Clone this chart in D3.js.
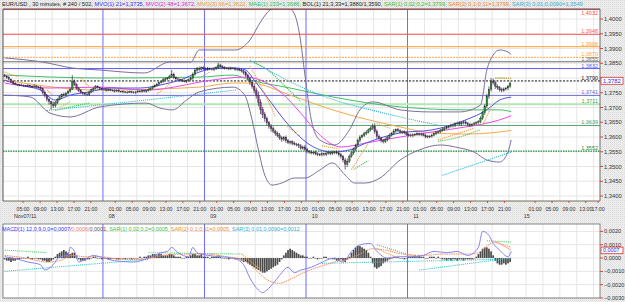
<!DOCTYPE html>
<html>
<head>
<meta charset="utf-8">
<script src="https://cdn.jsdelivr.net/npm/d3@7"></script>
<style>
  html, body { margin: 0; padding: 0; background: #ebebeb; }
  svg { display: block; font-family: "Liberation Sans", Arial, sans-serif; }
</style>
</head>
<body>
<div id="chart"></div>
<script>
// ---- data (prices in pips above 1.3000, bar index = 30 minute bar) ----
const closes = [
  806, 801, 796, 789, 782, 779, 777, 775, 776, 774,
  773, 775, 772, 771, 773, 770, 769, 764, 752, 741,
  728, 720, 712, 706, 716, 728, 736, 744, 741, 748,
  755, 762, 789, 779, 766, 757, 751, 748, 745, 743,
  752, 760, 765, 771, 767, 764, 762, 760, 758, 761,
  759, 757, 756, 758, 754, 755, 753, 751, 752, 754,
  752, 750, 753, 755, 754, 757, 755, 758, 760, 765,
  770, 775, 779, 784, 788, 794, 797, 800, 806, 812,
  801, 797, 795, 792, 790, 788, 791, 794, 799, 812,
  826, 833, 830, 835, 832, 829, 833, 830, 828, 831,
  835, 844, 838, 836, 834, 833, 831, 834, 832, 829,
  830, 827, 824, 818, 810, 798, 786, 772, 758, 742,
  718, 694, 676, 662, 648, 636, 628, 620, 612, 606,
  597, 592, 598, 587, 581, 584, 579, 576, 574, 570,
  562, 566, 558, 552, 549, 546, 548, 543, 541, 540,
  543, 541, 545, 547, 544, 548, 549, 546, 540, 534,
  522, 508, 518, 535, 546, 558, 572, 588, 600, 605,
  612, 616, 624, 630, 636, 618, 602, 596, 588, 584,
  591, 598, 606, 612, 620, 625, 621, 616, 618, 614,
  609, 606, 604, 607, 609, 611, 608, 610, 606, 602,
  600, 603, 606, 611, 615, 618, 622, 626, 630, 633,
  636, 640, 638, 645, 647, 644, 648, 651, 646, 642,
  640, 643, 646, 649, 652, 664, 682, 705, 738, 762,
  790, 784, 772, 768, 761, 758, 763, 766, 772, 782
];
const firstOpen = 810;
const upWick = [
  4,3,5,2,3,4,2,3,5,2, 3,4,2,3,5,3,2,4,3,6, 4,5,3,8,6,4,5,3,6,4, 5,4,21,6,3,4,5,3,4,6,
  5,4,3,5,4,3,4,3,5,3, 4,3,5,3,4,2,4,3,5,3, 3,4,3,5,4,3,4,3,5,4, 4,3,5,4,3,6,4,3,5,15,
  6,4,5,3,4,5,3,4,6,7, 8,5,6,4,5,4,5,3,4,6, 5,8,4,5,4,3,5,4,3,4, 3,4,5,4,6,5,7,6,8,9,
  12,10,8,9,7,6,8,7,5,6, 8,6,5,7,6,4,5,6,4,5, 6,5,7,6,4,5,4,6,5,4, 5,4,6,5,4,5,4,6,5,6,
  5,7,9,6,5,6,5,7,6,5, 6,7,5,6,9,10,8,6,5,6, 7,5,6,5,7,4,6,5,4,5, 5,4,6,5,4,5,4,5,4,5,
  5,4,5,4,5,4,6,5,4,5, 4,5,6,4,5,6,5,4,6,5, 5,4,5,4,5,6,7,6,8,9, 10,8,7,6,5,6,5,4,5,6
];
const loWick = [
  3,4,3,5,4,3,4,3,2,4, 3,4,3,5,4,3,5,6,8,7, 8,10,20,8,6,5,4,5,4,3, 4,5,3,6,5,4,3,5,4,3,
  4,3,5,4,3,5,4,3,4,3, 4,3,5,4,3,4,5,3,4,3, 4,3,5,4,3,4,3,5,4,3, 4,3,5,4,3,4,3,5,4,5,
  5,6,4,5,4,3,5,4,3,5, 4,5,6,4,5,4,5,4,3,5, 4,5,3,4,5,4,5,4,3,4, 5,4,5,6,7,8,9,8,10,12,
  14,16,12,10,9,8,10,7,8,6, 7,8,6,7,5,6,7,5,6,7, 5,6,5,7,6,5,6,5,6,5, 6,5,6,5,6,5,6,5,6,7,
  8,18,10,6,5,6,5,4,6,5, 5,6,4,5,6,7,8,6,7,6, 5,6,5,4,5,6,5,4,6,5, 4,5,4,5,4,5,4,5,4,6,
  5,4,5,4,5,4,5,4,5,4, 5,4,6,5,4,5,6,5,4,5, 6,5,4,5,4,5,6,7,8,9, 8,7,9,8,7,6,5,6,7,5
];

// indicator lines: [bar index, price]
const mvo21 = [[0,1.3793],[7,1.3776],[17,1.3759],[24,1.3725],[31,1.3742],[40,1.3753],[50,1.3766],[64,1.3766],[76,1.3780],[83,1.3793],[92,1.3820],[100,1.3834],[109,1.3834],[114,1.3827],[118,1.3793],[124,1.3736],[133.5,1.3647],[143,1.3580],[155,1.3549],[163,1.3556],[171,1.3580],[187,1.3614],[202,1.3624],[218,1.3658],[228,1.3692],[234,1.3725],[239.5,1.3735]];
const mvo48 = [[0,1.3783],[21,1.3766],[45,1.3769],[67,1.3759],[80,1.3769],[92,1.3786],[114,1.3803],[121,1.3793],[131,1.3749],[140,1.3681],[148,1.3614],[159,1.3566],[171,1.3580],[187,1.3600],[202,1.3617],[218,1.3634],[234,1.3658],[239.5,1.3672]];
const mvo96 = [[0,1.3793],[45,1.3759],[92,1.3769],[108,1.3783],[116,1.3783],[135,1.3742],[155,1.3692],[187,1.3634],[202,1.3614],[218,1.3610],[234,1.3617],[239.5,1.3622]];
const mae233 = [[0,1.3810],[45,1.3800],[92,1.3803],[108,1.3810],[116,1.3793],[135,1.3766],[155,1.3736],[187,1.3702],[218,1.3692],[234,1.3692],[239.5,1.3686]];
const bolUpper = [[0,1.3868],[18,1.3854],[32,1.3834],[45,1.3827],[66,1.3817],[78,1.3854],[88,1.3854],[92,1.3895],[109,1.3895],[116,1.3929],[121,1.3990],[125.5,1.4031],[131.5,1.4047],[136.5,1.4024],[139.5,1.3946],[142,1.3810],[145,1.3658],[149,1.3590],[156,1.3573],[163,1.3624],[168,1.3692],[174,1.3719],[187,1.3692],[201,1.3685],[215,1.3685],[225,1.3708],[228,1.3827],[231,1.3878],[234,1.3895],[238,1.3888],[239.5,1.3880]];
const bolLower = [[0,1.3742],[12,1.3736],[21.5,1.3681],[31,1.3668],[45,1.3702],[67,1.3715],[73.5,1.3698],[79.5,1.3692],[86,1.3725],[92,1.3753],[108,1.3769],[113.5,1.3742],[117,1.3658],[120,1.3556],[123,1.3471],[126.5,1.3437],[131,1.3444],[137,1.3461],[142,1.3461],[149,1.3488],[155,1.3512],[161,1.3471],[165.5,1.3444],[170.5,1.3444],[177.5,1.3461],[187,1.3522],[196,1.3556],[206,1.3573],[215,1.3563],[222,1.3549],[228,1.3522],[234,1.3515],[238,1.3549],[239.5,1.3590]];
const sar1 = [
  [[24,1.3690],[30,1.3700],[40,1.3715]],
  [[118,1.3852],[124,1.3830],[130,1.3790],[140,1.3720]],
  [[165,1.3490],[172,1.3520]],
  [[205,1.3585],[215,1.3600],[225,1.3625]],
  [[232,1.3800],[239.5,1.3799]]
];
const sar2 = [
  [[0,1.3820],[6,1.3805]], [[20,1.3760],[23,1.3740]], [[26,1.3700],[31,1.3720]],
  [[36,1.3800],[40,1.3770]], [[72,1.3745],[78,1.3780]], [[92,1.3800],[97,1.3820]],
  [[116,1.3840],[122,1.3760],[128,1.3670]], [[133,1.3640],[140,1.3600]],
  [[150,1.3570],[158,1.3560]], [[164,1.3490],[172,1.3580]], [[176,1.3646],[182,1.3630]],
  [[205,1.3590],[222,1.3630]], [[226,1.3640],[230,1.3700]], [[232,1.3800],[239.5,1.3799]]
];
const sar3 = [
  [[20,1.3690],[60,1.3720],[110,1.3760]],
  [[116,1.3860],[150,1.3740],[180,1.3680],[205,1.3640]],
  [[207,1.3470],[239.5,1.3549]]
];

// horizontal levels
const levelPrices = [1.4032, 1.3948, 1.3906, 1.3870, 1.3855, 1.3832, 1.3790, 1.3741, 1.3711, 1.3639, 1.3552];
const lastPrice = 1.3782;

// MACD panel (values in 0.0001)
const histVals = [
  -1,-2,-2,-3,-2,-2,-1,-1,0,0, 0,1,0,-1,0,0,-1,-1,-2,-2, -3,-3,-2,-1,1,3,4,5,6,5, 4,3,4,4,2,-1,-2,-2,-2,-1,
  -1,0,1,1,0,0,-1,0,0,-1, -1,0,0,-1,-1,0,0,-1,0,0, -1,0,0,0,1,0,1,1,2,2, 3,3,2,3,3,2,2,2,3,3,
  2,1,1,1,0,0,1,1,2,3, 3,2,2,3,1,1,1,0,1,1, 1,2,1,0,0,0,-1,0,0,-1, -1,-1,-2,-3,-3,-4,-5,-6,-7,-8,
  -9,-10,-11,-11,-10,-9,-8,-7,-6,-5, -3,-1,2,4,6,7,6,5,4,3, 2,2,1,1,0,0,1,0,-1,0, 0,1,1,0,0,-1,-1,-2,-2,-1,
  -2,-3,-1,1,4,6,8,9,9,8, 7,6,4,1,-4,-7,-8,-7,-6,-4, -3,-2,-1,0,1,1,1,0,0,-1, 0,1,1,1,2,1,2,1,1,0,
  0,1,1,1,0,1,0,-1,-1,-2, -1,-2,-1,-1,-2,-1,-1,-2,-1,-1, -1,-1,0,1,3,5,7,8,8,7, 5,2,-2,-4,-5,-5,-4,-5,-4,-3
];
const macdLine = [[0,1],[4,0],[11,-3],[17,-5],[19,-9],[23,-5],[26,1],[30,2],[31,8],[33,5],[35,-3],[39,0],[42,2],[45,1],[52,-2],[61,-3],[68,0],[74,4],[77,5],[79,8],[82,4],[87,1],[89,8],[91,4],[96,2],[102,1],[108,0],[113,-5],[116,-15],[120,-24],[122,-26],[124,-24],[127,-19],[130,-13],[134,-7],[137,-11],[140,-9],[145,-7],[149,-4],[156,0],[160,-3],[164,5],[168,10],[173,11],[176,5],[181,0],[187,1],[193,1],[198,2],[203,5],[209,4],[214,5],[219,2],[224,8],[226,20],[229,17],[231,11],[234,6],[238,1],[239.5,5]];
const signalLine = [[0,2],[10,0],[20,-3],[26,-2],[32,2],[38,1],[45,1],[55,-1],[65,-1],[75,2],[85,3],[95,3],[105,1],[112,-1],[116,-5],[120,-11],[125,-17],[130,-19],[135,-16],[140,-12],[148,-7],[156,-3],[162,-1],[168,3],[174,7],[180,6],[188,3],[198,2],[208,3],[218,3],[224,4],[228,9],[232,12],[236,9],[239.5,6]];
const macdSar1 = [[[0,6],[20,4]], [[68,4],[112,3]], [[176,10],[196,0]], [[228,13],[239.5,12]]];
const macdSar2 = [[[112,3],[122,-10]], [[176,7],[186,0]], [[232,12],[239.5,8]]];
const macdSar3 = [[[0,-10],[68,-1]], [[150,-4],[232,-1]], [[196,-9],[239.5,0]]];

// axes
const priceTicks = [1.4000, 1.3950, 1.3900, 1.3850, 1.3800, 1.3750, 1.3700, 1.3650, 1.3600, 1.3550, 1.3500, 1.3450, 1.3400];
const hiddenPriceLabel = 1.3800;   // covered by the last-price box in the reference
const macdTicks = [0.0020, 0.0010, 0, -0.0010, -0.0020, -0.0030];
const lastMacd = 0.0007;
const hourTickIdx = [8.7, 16.8, 24.8, 32.8, 40.8,
  52.3, 60.3, 68.3, 76.3, 84.3, 92.3,
  100.3, 108.3, 116.3, 124.3, 132.3, 140.3,
  148.3, 156.3, 164.3, 172.3, 180.3, 188.3,
  196.3, 204.3, 212.3, 220.3, 228.3, 236.3,
  250.8, 258.8, 266.8, 274.8, 280.6];
const hourTickLbl = ['05:00','09:00','13:00','17:00','21:00',
  '01:00','05:00','09:00','13:00','17:00','21:00',
  '01:00','05:00','09:00','13:00','17:00','21:00',
  '01:00','05:00','09:00','13:00','17:00','21:00',
  '01:00','05:00','09:00','13:00','17:00','21:00',
  '01:00','05:00','09:00','13:00','17:00'];
const dayTickIdx = [4.4, 49.2, 97.2, 145.2, 193.2, 245.4];
const dayTickLbl = ['Nov07/11', '08', '09', '10', '11', '15'];
const daySeparators = [46.5, 94.5, 142.5, 190.5];

const headerParts = ['EUR/USD , 30 minutes, # 240 / 502, ', 'MVO(1) 21=1,3735, ', 'MVO(2) 48=1,3672, ', 'MVO(3) 96=1,3622, ',
  'MAE(1) 233=1,3686, ', 'BOL(1) 21;3,33=1,3880/1,3590, ', 'SAR(1) 0,02;0,2=1,3799, ', 'SAR(2) 0,1;0,11=1,3799, ', 'SAR(3) 0,01;0,0090=1,3549'];
const macdHeaderParts = ['MACD(1) 12,0,9,0,0=0,0007/', '0,0006/', '0,0001, ', 'SAR(1) 0,02;0,2=0,0005, ', 'SAR(2) 0,1;0,11=0,0005, ', 'SAR(3) 0,01;0,0090=0,0012'];

// ---- layout ----
const W = 625, H = 302;
const main = { l: 3, r: 600, t: 9, b: 201 };
const sub = { t: 224, b: 298 };
const fmt4 = v => d3.format('.4f')(v).replace('.', ',').replace('-0,0000', '0,0000');

const svg = d3.select('#chart').append('svg').attr('width', W).attr('height', H);

const defs = svg.append('defs');
const pat = defs.append('pattern').attr('id', 'dither').attr('width', 2).attr('height', 2).attr('patternUnits', 'userSpaceOnUse');
pat.append('rect').attr('width', 2).attr('height', 2).attr('fill', '#f1f1f1');
pat.append('rect').attr('width', 1).attr('height', 1).attr('fill', '#dadada');
pat.append('rect').attr('x', 1).attr('y', 1).attr('width', 1).attr('height', 1).attr('fill', '#e4e4e4');
defs.append('clipPath').attr('id', 'clipMain').append('rect')
  .attr('x', main.l).attr('y', main.t).attr('width', main.r - main.l).attr('height', main.b - main.t);
defs.append('clipPath').attr('id', 'clipSub').append('rect')
  .attr('x', main.l).attr('y', sub.t).attr('width', main.r - main.l).attr('height', sub.b - sub.t);

svg.append('rect').attr('width', W).attr('height', H).attr('fill', 'url(#dither)');

const x = d3.scaleLinear().domain([-0.757, 281.5]).range([main.l, main.r]);
const y = d3.scaleLinear().domain([1.34, 1.40]).range([196, 19]);
const ym = d3.scaleLinear().domain([-0.003, 0.002]).range([298, 231.4]);

// plot backgrounds
svg.append('rect').attr('x', main.l).attr('y', main.t).attr('width', main.r - main.l).attr('height', main.b - main.t).attr('fill', '#fff');
svg.append('rect').attr('x', main.l).attr('y', sub.t).attr('width', main.r - main.l).attr('height', sub.b - sub.t).attr('fill', '#fff');

// grid
const gridIdx = d3.range(6.5, 281.5, 8).filter(i => !daySeparators.includes(i));
[[main.t, main.b], [sub.t, sub.b]].forEach(([t, b]) => {
  svg.append('g').selectAll('line').data(gridIdx).join('line')
    .attr('x1', d => x(d)).attr('x2', d => x(d)).attr('y1', t).attr('y2', b)
    .attr('stroke', '#e6e6e6').attr('stroke-width', 1);
});
svg.append('g').selectAll('line').data(priceTicks).join('line')
  .attr('x1', main.l).attr('x2', main.r).attr('y1', d => y(d)).attr('y2', d => y(d))
  .attr('stroke', '#e6e6e6');
svg.append('g').selectAll('line').data(macdTicks).join('line')
  .attr('x1', main.l).attr('x2', main.r).attr('y1', d => ym(d)).attr('y2', d => ym(d))
  .attr('stroke', '#e6e6e6');

// day separators
[[main.t, main.b], [sub.t, sub.b]].forEach(([t, b]) => {
  svg.append('g').selectAll('line').data(daySeparators).join('line')
    .attr('x1', d => x(d)).attr('x2', d => x(d)).attr('y1', t).attr('y2', b)
    .attr('stroke', '#6a6aff').attr('stroke-width', 1);
});

const gMain = svg.append('g').attr('clip-path', 'url(#clipMain)');

// horizontal levels
const levelStyle = [
  { c: '#ff4a4a', w: 1, d: null }, { c: '#ff5a5a', w: 1, d: null }, { c: '#ff9a30', w: 1, d: null },
  { c: '#ffa64a', w: 1, d: '2,1' }, { c: '#6e6e6e', w: 1, d: null }, { c: '#5c5cff', w: 1, d: null },
  { c: '#111', w: 1, d: '2,1.5' }, { c: '#6c6cd6', w: 1, d: null }, { c: '#b5e6b5', w: 2, d: null },
  { c: '#55aa70', w: 1, d: null }, { c: '#1f8a3a', w: 1.4, d: '1.5,1' }
];
levelPrices.forEach((p, k) => {
  const s = levelStyle[k];
  gMain.append('line').attr('x1', main.l).attr('x2', main.r).attr('y1', y(p)).attr('y2', y(p))
    .attr('stroke', s.c).attr('stroke-width', s.w).attr('stroke-dasharray', s.d);
});

const line = d3.line().x(d => x(d[0])).y(d => y(d[1])).curve(d3.curveMonotoneX);

// moving averages and bands
[[mae233, '#3fbf6a'], [mvo96, '#f5a94a'], [mvo48, '#e84ae8'], [mvo21, '#4f4fea']].forEach(([data, c]) => {
  gMain.append('path').attr('d', line(data)).attr('fill', 'none').attr('stroke', c).attr('stroke-width', 1);
});
[bolUpper, bolLower].forEach(data => {
  gMain.append('path').attr('d', line(data)).attr('fill', 'none').attr('stroke', '#7c6f9c').attr('stroke-width', 1);
});

// candles
const bars = closes.map((c, i) => {
  const open = i === 0 ? firstOpen : closes[i - 1];
  return {
    i, open, close: c,
    high: Math.max(open, c) + upWick[i],
    low: Math.min(open, c) - loWick[i]
  };
});
const py = v => y(1.3 + v / 10000);
const gC = gMain.append('g');
gC.selectAll('line').data(bars).join('line')
  .attr('x1', d => x(d.i)).attr('x2', d => x(d.i))
  .attr('y1', d => py(d.high)).attr('y2', d => py(d.low))
  .attr('stroke', '#2a2a2a').attr('stroke-width', 0.7);
gC.selectAll('rect').data(bars).join('rect')
  .attr('x', d => x(d.i) - 0.8).attr('width', 1.6)
  .attr('y', d => py(Math.max(d.open, d.close)))
  .attr('height', d => Math.max(0.6, Math.abs(py(d.open) - py(d.close))))
  .attr('fill', d => d.close >= d.open ? '#2e8a36' : '#7e3a8e')
  .attr('stroke', '#222').attr('stroke-width', 0.3);

// SAR dots
[[sar3, '#3cb4d4'], [sar1, '#3fbf4a'], [sar2, '#f39a3a']].forEach(([segs, c]) => {
  segs.forEach(seg => {
    gMain.append('path').attr('d', line(seg)).attr('fill', 'none').attr('stroke', c)
      .attr('stroke-width', 1.1).attr('stroke-dasharray', '1.1,1');
  });
});

// level labels (the top one sits just under its line, clear of the header)
levelPrices.forEach((p, k) => {
  svg.append('text').attr('x', 598).attr('y', k === 0 ? y(p) + 5 : y(p) - 1).attr('text-anchor', 'end')
    .attr('font-size', 5.5).attr('fill', k === 8 ? '#45a845' : levelStyle[k].c).text(fmt4(p));
});

// main frame
svg.append('line').attr('x1', main.l).attr('x2', main.r).attr('y1', main.t).attr('y2', main.t).attr('stroke', '#555');
svg.append('line').attr('x1', main.l).attr('x2', main.l).attr('y1', main.t).attr('y2', main.b).attr('stroke', '#555');
svg.append('line').attr('x1', main.l).attr('x2', main.r).attr('y1', main.b).attr('y2', main.b).attr('stroke', '#6f6f55');
svg.append('line').attr('x1', main.r).attr('x2', main.r).attr('y1', main.t).attr('y2', main.b).attr('stroke', '#6f6f6f');

// price axis
const gY = svg.append('g');
gY.selectAll('line').data(priceTicks).join('line')
  .attr('x1', main.r).attr('x2', main.r + 3).attr('y1', d => y(d)).attr('y2', d => y(d)).attr('stroke', '#e04040');
gY.selectAll('text').data(priceTicks.filter(d => d !== hiddenPriceLabel)).join('text')
  .attr('x', main.r + 4).attr('y', d => y(d) + 2).attr('font-size', 5.8).attr('fill', '#333').text(fmt4);
svg.append('rect').attr('x', 601).attr('y', y(lastPrice) - 6).attr('width', 22).attr('height', 7)
  .attr('fill', '#fff').attr('stroke', '#e03030').attr('stroke-width', 0.8);
svg.append('text').attr('x', 603).attr('y', y(lastPrice) - 0.6).attr('font-size', 5.8).attr('fill', '#2a2ae0').text(fmt4(lastPrice));

// time axis
const gX = svg.append('g');
gX.selectAll('line').data(hourTickIdx).join('line')
  .attr('x1', d => x(d)).attr('x2', d => x(d)).attr('y1', main.b).attr('y2', main.b + 2).attr('stroke', '#e04040');
gX.selectAll('text').data(hourTickIdx).join('text')
  .attr('x', d => x(d)).attr('y', 210.5).attr('text-anchor', 'middle').attr('font-size', 5.2).attr('fill', '#333')
  .text((d, k) => hourTickLbl[k]);
svg.append('g').selectAll('text').data(dayTickIdx).join('text')
  .attr('x', d => x(d)).attr('y', 218).attr('font-size', 5.4).attr('fill', '#333')
  .text((d, k) => dayTickLbl[k]);

// headers: coloured pieces laid end to end, shrunk to the reference's width
function header(parts, colors, x0, x1, yBase, size) {
  const g = svg.append('g').attr('font-size', size);
  const texts = parts.map((t, k) => g.append('text').attr('y', yBase).attr('fill', colors[k])
    .style('white-space', 'pre').text(t));
  const total = d3.sum(texts, t => t.node().getComputedTextLength());
  const k = Math.min(1, (x1 - x0) / total);
  g.attr('font-size', size * k);
  let cx = x0;
  texts.forEach(t => { t.attr('x', cx); cx += t.node().getComputedTextLength(); });
}
header(headerParts, ['#222', '#3434ff', '#e028e0', '#f0a030', '#30c060', '#222', '#40c040', '#f08a30', '#30b0d0'],
  2, 584, 6.3, 5.8);

// ---- MACD panel ----
const gSub = svg.append('g').attr('clip-path', 'url(#clipSub)');
const mline = d3.line().x(d => x(d[0])).y(d => ym(d[1] / 10000)).curve(d3.curveMonotoneX);
gSub.selectAll('rect').data(histVals).join('rect')
  .attr('x', (d, i) => x(i) - 0.85).attr('width', 1.7)
  .attr('y', d => Math.min(ym(0), ym(d / 10000)))
  .attr('height', d => Math.max(0.5, Math.abs(ym(d / 10000) - ym(0))))
  .attr('fill', '#4a4a4a');
[[macdSar3, '#3cc8c8'], [macdSar1, '#4ccf6a'], [macdSar2, '#f59a3a']].forEach(([segs, c]) => {
  segs.forEach(seg => {
    gSub.append('path').attr('d', mline(seg)).attr('fill', 'none').attr('stroke', c)
      .attr('stroke-width', 1.1).attr('stroke-dasharray', '1.1,1');
  });
});
gSub.append('path').attr('d', mline(signalLine)).attr('fill', 'none').attr('stroke', '#f5875a')
  .attr('stroke-width', 1).attr('stroke-dasharray', '1.5,0.8');
gSub.append('path').attr('d', mline(macdLine)).attr('fill', 'none').attr('stroke', '#8484f6').attr('stroke-width', 1);

svg.append('rect').attr('x', main.l).attr('y', sub.t).attr('width', main.r - main.l).attr('height', sub.b - sub.t)
  .attr('fill', 'none').attr('stroke', '#6a6a6a').attr('stroke-width', 0.8);

const gM = svg.append('g');
gM.selectAll('line').data(macdTicks).join('line')
  .attr('x1', main.r).attr('x2', main.r + 3).attr('y1', d => ym(d)).attr('y2', d => ym(d)).attr('stroke', '#e04040');
gM.selectAll('text').data(macdTicks).join('text')
  .attr('x', main.r + 4).attr('y', d => ym(d) + 2).attr('font-size', 5.6).attr('fill', '#333').text(fmt4);
svg.append('rect').attr('x', 601).attr('y', ym(lastMacd) - 1.6).attr('width', 22).attr('height', 6.6)
  .attr('fill', '#fff').attr('stroke', '#e03030').attr('stroke-width', 0.8);
svg.append('text').attr('x', 603).attr('y', ym(lastMacd) + 3.6).attr('font-size', 5.4).attr('fill', '#2a2ae0').text(fmt4(lastMacd));

header(macdHeaderParts, ['#3434ff', '#f08070', '#555', '#40c040', '#f08a30', '#30b0d0'], 2, 300, 230.8, 5.6);
</script>
</body>
</html>
